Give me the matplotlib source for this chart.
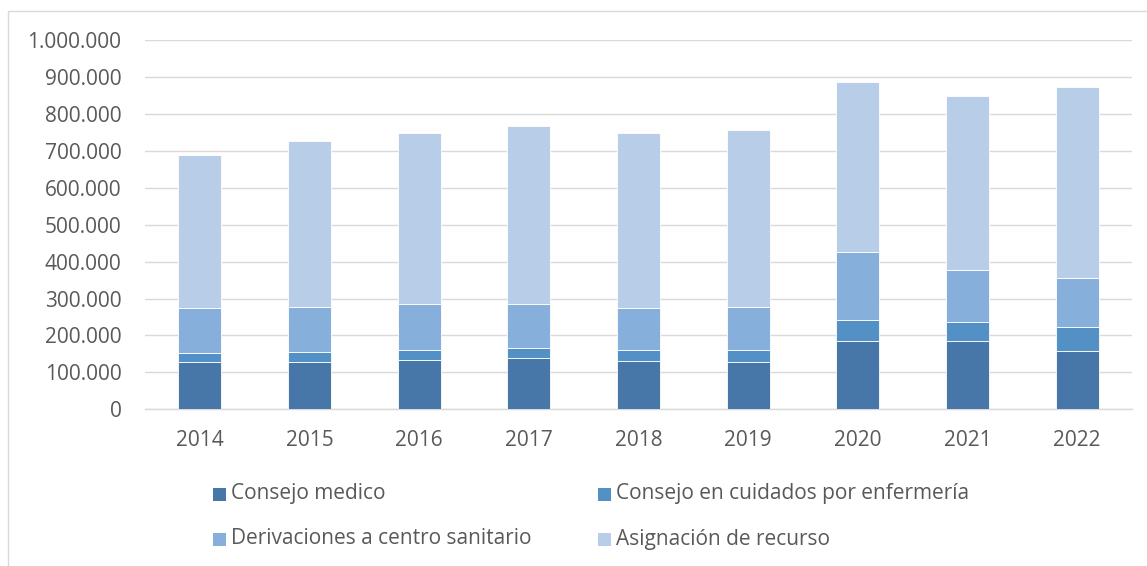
import numpy as np
import matplotlib.pyplot as plt
from matplotlib.patches import Rectangle
from matplotlib.ticker import FuncFormatter

years = ['2014', '2015', '2016', '2017', '2018', '2019', '2020', '2021', '2022']
consejo_medico = [127000, 127000, 134500, 138000, 132000, 129000, 184000, 184000, 158000]
consejo_enfermeria = [26000, 28000, 27000, 29000, 28500, 32500, 59000, 51500, 64000]
derivaciones = [121000, 123000, 123500, 118000, 113500, 114500, 183000, 142500, 134500]
asignacion = [415000, 449000, 463000, 481000, 475000, 480000, 461000, 471000, 515500]

labels = ['Consejo medico', 'Consejo en cuidados por enfermería',
          'Derivaciones a centro sanitario', 'Asignación de recurso']
colors = ['#4677a8', '#5390c6', '#86afdc', '#b8cee8']
Fontsize = 15
txt_color = '#595959'

plt.rcParams['font.family'] = ['Open Sans', 'DejaVu Sans']

W, H = 1147, 566
fig = plt.figure(figsize=(W / 100, H / 100), dpi=100)
ax = fig.add_axes([145 / W, (H - 409.3) / H, (1132 - 145) / W, (409.3 - 40) / H])

x = np.arange(len(years))
bottom = np.zeros(len(years))
series = [consejo_medico, consejo_enfermeria, derivaciones, asignacion]
for vals, col, lab in zip(series, colors, labels):
    ax.bar(x, vals, width=0.395, bottom=bottom, color=col, edgecolor='white',
           linewidth=0.6, label=lab, zorder=3)
    bottom += np.array(vals)

ax.set_xlim(-0.5, len(years) - 0.5)
ax.set_ylim(0, 1000000)
ax.set_yticks(np.arange(0, 1000001, 100000))
ax.yaxis.set_major_formatter(FuncFormatter(lambda v, p: '{:,.0f}'.format(v).replace(',', '.')))
ax.set_xticks(x)
ax.set_xticklabels(years)
ax.grid(axis='y', color='#d9d9d9', linewidth=1.0, zorder=0)
for s in ['top', 'right', 'left']:
    ax.spines[s].set_visible(False)
ax.spines['bottom'].set_color('#d9d9d9')
ax.spines['bottom'].set_linewidth(1.0)
ax.tick_params(axis='both', length=0, labelsize=Fontsize, labelcolor=txt_color)
ax.tick_params(axis='y', pad=17)
ax.tick_params(axis='x', pad=15)

# legend placed by hand, two rows like the original
leg_pos = [(213, 494), (598, 494), (213, 539), (598, 539)]
for (px, py), col, lab in zip(leg_pos, colors, labels):
    fig.patches.append(Rectangle((px / W, (H - py - 7) / H), 13 / W, 13 / H,
                                 transform=fig.transFigure, facecolor=col,
                                 edgecolor='none'))
    fig.text((px + 18) / W, (H - py) / H, lab, fontsize=Fontsize,
             color=txt_color, va='center', ha='left')

# chart area border (only top and left visible in the crop)
fig.patches.append(Rectangle((8 / W, -0.1), 1.2, (H - 11) / H + 0.1,
                             transform=fig.transFigure, facecolor='none',
                             edgecolor='#d9d9d9', linewidth=1.0))

fig.savefig('out.png', dpi=100)
